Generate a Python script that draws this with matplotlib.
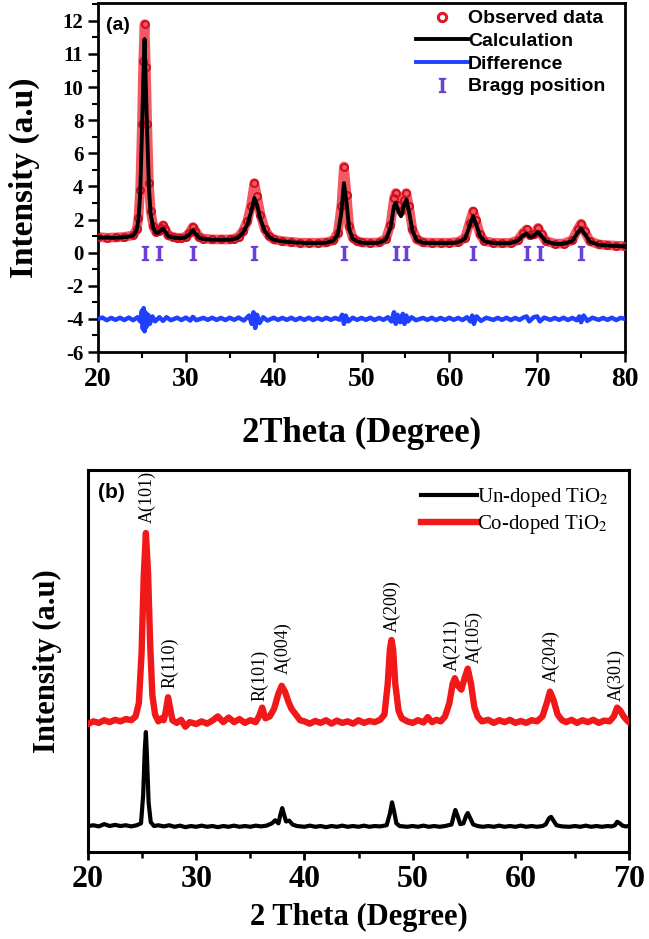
import numpy as np
import matplotlib
matplotlib.use("Agg")
import matplotlib.pyplot as plt
from matplotlib.lines import Line2D
from matplotlib.ticker import FixedLocator, MultipleLocator

plt.rcParams['mathtext.fontset'] = 'stix'

# ---------------- Panel (a) data: Rietveld refinement ----------------
tt_a = [20, 21, 22, 23, 24, 24.4, 24.6, 24.8, 25.0, 25.15, 25.3, 25.45, 25.6, 25.8, 26.0, 26.3,
        26.6, 26.9, 27.2, 27.4, 27.6, 28.0, 28.5, 29.0, 29.5, 30.0, 30.4, 30.8, 31.1,
        31.5, 32, 33, 34, 35, 35.5, 36, 36.5, 37.0, 37.4, 37.8, 38.1, 38.5, 39.0, 39.5,
        40, 41, 42, 43, 44, 45, 46, 46.8, 47.3, 47.7, 48.0, 48.3, 48.6, 49.0, 49.5,
        50, 51, 52, 52.8, 53.3, 53.7, 53.9, 54.2, 54.5, 54.8, 55.1, 55.4, 55.8, 56.3,
        57, 58, 59, 60, 61, 61.8, 62.3, 62.7, 63.0, 63.5, 64.0, 65, 66, 67, 67.8, 68.4,
        68.8, 69.2, 69.6, 70.1, 70.5, 71.0, 72, 73, 74.0, 74.6, 75.0, 75.4, 76.0, 77,
        78, 79, 80]
observed = [0.95, 0.9, 0.92, 0.95, 1.05, 1.4, 2.1, 3.8, 7.8, 10.8, 11.9, 10.6, 7.8, 4.2, 2.5, 1.6,
            1.25, 1.3, 1.5, 1.65, 1.45, 1.05, 0.95, 0.9, 0.9, 0.95, 1.2, 1.55, 1.3,
            0.95, 0.85, 0.8, 0.8, 0.8, 0.85, 0.95, 1.3, 1.9, 2.8, 4.2, 3.4, 2.3, 1.4, 1.0,
            0.8, 0.7, 0.65, 0.6, 0.6, 0.6, 0.62, 0.75, 1.2, 2.8, 5.2, 3.5, 1.6, 0.9, 0.7,
            0.62, 0.6, 0.62, 0.85, 1.7, 3.3, 3.6, 2.9, 2.5, 3.2, 3.6, 2.8, 1.4, 0.8,
            0.62, 0.6, 0.6, 0.6, 0.65, 0.9, 1.8, 2.5, 2.0, 1.1, 0.7, 0.6, 0.58, 0.6, 0.75, 1.2,
            1.4, 1.05, 1.1, 1.5, 1.1, 0.7, 0.55, 0.55, 0.75, 1.4, 1.75, 1.3, 0.7, 0.5,
            0.45, 0.42, 0.4]
calculation = [0.92, 0.9, 0.9, 0.93, 1.02, 1.35, 2.0, 3.5, 7.2, 10.2, 11.45, 10.0, 7.2, 3.9, 2.3, 1.5,
               1.2, 1.22, 1.35, 1.45, 1.3, 1.0, 0.92, 0.88, 0.88, 0.92, 1.1, 1.35, 1.15,
               0.9, 0.82, 0.78, 0.78, 0.78, 0.82, 0.92, 1.2, 1.7, 2.4, 3.3, 2.9, 2.0, 1.3, 0.95,
               0.78, 0.68, 0.63, 0.6, 0.58, 0.58, 0.6, 0.72, 1.1, 2.4, 4.2, 3.0, 1.4, 0.85, 0.68,
               0.6, 0.58, 0.6, 0.8, 1.5, 2.8, 3.0, 2.5, 2.2, 2.8, 3.2, 2.5, 1.3, 0.75,
               0.6, 0.58, 0.58, 0.58, 0.62, 0.85, 1.6, 2.2, 1.8, 1.0, 0.68, 0.58, 0.56, 0.58, 0.72, 1.05,
               1.15, 0.95, 1.0, 1.25, 1.0, 0.68, 0.53, 0.53, 0.7, 1.2, 1.45, 1.15, 0.66, 0.48,
               0.43, 0.4, 0.38]

tt_diff = [20, 20.5, 21, 21.5, 22, 22.5, 23, 23.5, 24, 24.5, 24.8, 25.0, 25.1, 25.2,
           25.3, 25.4, 25.5, 25.7, 25.9, 26.2, 26.5, 27, 27.4, 27.8, 28.3, 29, 29.5, 30,
           30.5, 30.8, 31.2, 32, 32.5, 33, 33.5, 34, 34.5, 35, 35.5, 36, 36.6, 37.2, 37.5,
           37.7, 37.9, 38.1, 38.4, 38.8, 39.3, 40, 40.5, 41, 41.5, 42, 42.5, 43, 43.5, 44,
           44.5, 45, 45.5, 46, 46.5, 47, 47.5, 47.8, 48.0, 48.2, 48.5, 49, 49.5, 50, 50.5,
           51, 51.5, 52, 52.5, 53, 53.4, 53.7, 53.9, 54.1, 54.4, 54.7, 54.9, 55.1, 55.3,
           55.7, 56.2, 57, 57.5, 58, 58.5, 59, 59.5, 60, 60.5, 61, 61.5, 62, 62.4, 62.6,
           62.8, 63.1, 63.6, 64.2, 65, 65.5, 66, 66.5, 67, 67.5, 68, 68.5, 68.8, 69.1,
           69.6, 70.0, 70.3, 70.8, 71.5, 72, 72.5, 73, 73.5, 74, 74.5, 74.8, 75.0, 75.3,
           75.7, 76.3, 77, 77.5, 78, 78.5, 79, 79.5, 80]
difference = [-4.0, -3.92, -4.08, -3.94, -4.06, -3.93, -4.07, -3.92, -4.08, -3.9, -4.15, -3.5, -4.6, -3.35,
              -4.75, -3.6, -4.5, -3.75, -4.3, -3.85, -4.15, -3.9, -4.12, -3.9, -4.08, -3.93, -4.07, -3.92,
              -4.1, -3.88, -4.08, -3.94, -4.06, -3.93, -4.06, -3.94, -4.07, -3.93, -4.06, -3.92, -4.1, -3.8, -4.3,
              -3.6, -4.55, -3.75, -4.25, -3.9, -4.1, -3.93, -4.06, -3.94, -4.06, -3.93, -4.07, -3.94, -4.06, -3.93,
              -4.07, -3.94, -4.06, -3.93, -4.06, -3.94, -4.05, -3.75, -4.3, -3.8, -4.15, -3.93, -4.06, -3.94, -4.06,
              -3.93, -4.07, -3.94, -4.06, -3.9, -4.15, -3.6, -4.3, -3.75, -4.2, -3.7, -4.3, -3.8, -4.15,
              -3.9, -4.08, -3.94, -4.06, -3.93, -4.07, -3.94, -4.06, -3.93, -4.06, -3.94, -4.07, -3.9, -4.15, -3.8,
              -4.3, -3.85, -4.12, -3.93, -4.06, -3.94, -4.06, -3.93, -4.07, -3.94, -4.06, -3.9, -3.85, -4.15,
              -3.9, -3.85, -4.15, -3.92, -4.06, -3.94, -4.06, -3.93, -4.07, -3.94, -4.08, -3.85, -4.2, -3.8,
              -4.12, -3.93, -4.06, -3.94, -4.06, -3.93, -4.07, -3.94, -4.0]

bragg = [25.3, 27.0, 30.8, 37.8, 48.0, 53.9, 55.1, 62.7, 68.8, 70.3, 75.0]
bragg_level = [0] * len(bragg)

yticks_a = [-6, -4, -2, 0, 2, 4, 6, 8, 10, 11, 12]
xticks_a = [20, 30, 40, 50, 60, 70, 80]

# ---------------- Panel (b) data: XRD patterns (offset, arbitrary units) ----------------
tt_co = [20, 20.5, 21, 21.5, 22, 22.5, 23, 23.5, 24, 24.4, 24.7, 24.95, 25.15, 25.35, 25.55,
         25.75, 25.95, 26.2, 26.5, 26.8, 27.0, 27.2, 27.4, 27.6, 27.8, 28.2, 28.6, 29.0, 29.4,
         30, 30.5, 31, 31.5, 32, 32.5, 33, 33.5, 34, 34.5, 35, 35.5, 35.8, 36.1, 36.4, 36.8,
         37.2, 37.6, 37.9, 38.2, 38.5, 38.8, 39.2, 39.6, 40, 40.5, 41, 41.5, 42, 42.5, 43,
         43.5, 44, 44.5, 45, 45.5, 46, 46.5, 47, 47.4, 47.7, 47.9, 48.05, 48.2, 48.4, 48.7,
         49, 49.5, 50, 50.5, 51, 51.4, 51.8, 52.2, 52.6, 53, 53.4, 53.7, 53.9, 54.2, 54.5,
         54.8, 55.1, 55.4, 55.7, 56.0, 56.4, 57, 57.5, 58, 58.5, 59, 59.5, 60, 60.5, 61,
         61.5, 62, 62.4, 62.7, 63.0, 63.4, 63.8, 64.2, 64.7, 65.2, 65.7, 66.2, 66.7, 67.2,
         67.7, 68.2, 68.6, 68.9, 69.2, 69.5, 69.8, 70]
co_doped = [33.5, 34.2, 33.8, 34.5, 34.0, 34.6, 34.2, 34.8, 34.5, 35.5, 39, 52, 72, 83.5, 73,
            54, 41, 36, 34.2, 35, 34.5, 37, 40.5, 37.5, 34.5, 33.8, 34.6, 32.8, 34.0,
            33.5, 34.2, 33.6, 34.4, 35.5, 34.0, 35.2, 34.0, 34.8, 33.8, 34.5, 34.0, 35.5, 37.8, 35, 35.5,
            37.5, 41.5, 43.5, 42, 39.5, 37.5, 36, 34.5, 34.2, 33.6, 34.3, 33.8, 34.5, 33.6, 34.4,
            33.8, 34.2, 33.6, 34.5, 33.8, 34.3, 34.0, 34.6, 36, 44, 53, 55.5, 53, 44, 37,
            35, 34.2, 33.8, 34.5, 33.9, 35.3, 34.0, 34.6, 34.2, 35.5, 39, 44, 45.5, 43.5, 42.5,
            45.5, 48, 44, 38, 35.5, 34.2, 34.6, 33.8, 34.5, 34.0, 34.6, 33.8, 34.3, 33.8, 34.5,
            34.2, 35.5, 39, 42, 40, 36, 34.5, 34.0, 34.6, 33.8, 34.5, 34.0, 34.6, 33.8,
            34.4, 34.2, 35.5, 37.8, 37, 35.5, 34.5, 34]

tt_un = [20, 20.5, 21, 21.5, 22, 22.5, 23, 23.5, 24, 24.5, 24.9, 25.1, 25.25, 25.35, 25.45,
         25.6, 25.8, 26.1, 26.5, 27, 27.5, 28, 28.5, 29, 29.5, 30, 30.5, 31, 31.5, 32, 32.5,
         33, 33.5, 34, 34.5, 35, 35.5, 36, 36.5, 37.0, 37.3, 37.6, 37.8, 37.95, 38.1, 38.3,
         38.6, 38.9, 39.3, 40, 40.5, 41, 41.5, 42, 42.5, 43, 43.5, 44, 44.5, 45, 45.5, 46,
         46.5, 47, 47.6, 47.9, 48.1, 48.3, 48.5, 48.8, 49.5, 50, 50.5, 51, 51.5, 52, 52.5,
         53, 53.6, 53.8, 53.95, 54.15, 54.4, 54.7, 54.95, 55.1, 55.3, 55.6, 56, 56.5, 57,
         57.5, 58, 58.5, 59, 59.5, 60, 60.5, 61, 61.5, 62, 62.3, 62.6, 62.8, 63.0, 63.3,
         63.8, 64.5, 65, 65.5, 66, 66.5, 67, 67.5, 68, 68.4, 68.7, 68.9, 69.1, 69.4, 69.7, 70]
un_doped = [6.8, 7.0, 6.7, 7.3, 6.8, 7.1, 6.8, 7.0, 6.7, 7.0, 7.5, 15, 27, 31.4, 25,
            13, 7.8, 6.8, 7.0, 6.7, 7.0, 6.6, 6.9, 6.5, 6.8, 6.6, 6.9, 6.6, 6.8, 6.5, 6.8,
            6.6, 6.9, 6.6, 6.8, 6.6, 6.9, 6.7, 6.9, 7.5, 8.3, 7.5, 10, 11.5, 10, 8,
            8.2, 7.2, 6.8, 6.6, 6.9, 6.6, 6.8, 6.5, 6.8, 6.6, 6.9, 6.6, 6.8, 6.6, 6.9, 6.6,
            6.8, 6.7, 7.0, 10, 13, 10.5, 7.5, 6.8, 6.6, 6.8, 6.6, 6.9, 6.6, 6.8, 6.6,
            6.8, 7.2, 9.5, 11, 9.5, 7.3, 7.5, 9.5, 10.2, 9.0, 7.2, 6.8, 6.6, 6.8,
            6.6, 6.9, 6.6, 6.8, 6.6, 6.9, 6.6, 6.8, 6.6, 6.8, 7.2, 8.8, 9.2, 8.3, 7.0,
            6.7, 6.6, 6.8, 6.6, 6.9, 6.6, 6.8, 6.6, 6.8, 6.7, 7.0, 7.9, 7.6, 6.9, 6.7, 6.8]

peak_labels = ["A(101)", "R(110)", "R(101)", "A(004)", "A(200)", "A(211)", "A(105)", "A(204)", "A(301)"]
peak_label_x = [25.5, 27.6, 35.9, 38.0, 48.1, 53.7, 55.7, 62.8, 68.8]
peak_label_y = [86, 43, 39.5, 46.5, 57.5, 47.5, 49.5, 44.5, 39.5]
xticks_b = [20, 30, 40, 50, 60, 70]

# ---------------- Figure ----------------
W, H = 649, 939
fig = plt.figure(figsize=(W / 100, H / 100), dpi=100)
serif = 'Liberation Serif'
sans = 'Liberation Sans'

def px_rect(l, t, r, b):
    return [l / W, 1 - b / H, (r - l) / W, (b - t) / H]

# ---- Panel (a)
ax1 = fig.add_axes(px_rect(98, 3, 625, 352))

def fwd(y):
    y = np.asarray(y, dtype=float)
    return np.where(y <= 10, y, 10 + 2 * (y - 10))

def inv(p):
    p = np.asarray(p, dtype=float)
    return np.where(p <= 10, p, 10 + (p - 10) / 2)

ax1.set_yscale('function', functions=(fwd, inv))
ax1.plot(tt_a, observed, color='#f0303c', lw=7, alpha=0.8, solid_capstyle='round', zorder=2)
ax1.plot(tt_a, observed, ls='none', marker='o', ms=5, mfc='none', mec='#d01020', mew=1.5, zorder=3)
ax1.plot(tt_a, calculation, color='black', lw=2.8, zorder=4)
ax1.plot(tt_diff, difference, color='#2040ff', lw=3.2, zorder=4)
ax1.plot(bragg, bragg_level, ls='none', marker=r'$\mathrm{I}$', ms=10, color='#6a40d8', zorder=5)

ax1.set_xlim(20, 80)
ax1.set_ylim(-6, 12.54)
ax1.yaxis.set_major_locator(FixedLocator(yticks_a))
ax1.yaxis.set_minor_locator(FixedLocator([-5, -3, -1, 1, 3, 5, 7, 9, 10.5, 11.5, 12.5]))
ax1.set_yticklabels([str(v) for v in yticks_a])
ax1.xaxis.set_major_locator(FixedLocator(xticks_a))
ax1.xaxis.set_minor_locator(MultipleLocator(5))
ax1.tick_params(axis='both', which='major', direction='out', length=7, width=1.8)
ax1.tick_params(axis='both', which='minor', direction='out', length=4, width=1.5)
for lab in ax1.get_yticklabels():
    lab.set_fontfamily(serif); lab.set_fontweight('bold'); lab.set_fontsize(15)
for lab in ax1.get_xticklabels():
    lab.set_fontfamily(serif); lab.set_fontweight('bold'); lab.set_fontsize(20)
for sp in ax1.spines.values():
    sp.set_linewidth(2.0)
ax1.set_ylabel('Intensity (a.u)', fontfamily=serif, fontweight='bold', fontsize=24, labelpad=16)
ax1.set_xlabel('2Theta (Degree)', fontfamily=serif, fontweight='bold', fontsize=25, labelpad=18)
ax1.text(0.016, 0.935, '(a)', transform=ax1.transAxes, fontfamily=sans, fontweight='bold',
         fontsize=14, va='center', ha='left')

h_a = [Line2D([], [], ls='none', marker='o', ms=6, mfc='none', mec='#e01828', mew=2.2),
       Line2D([], [], color='black', lw=2.8),
       Line2D([], [], color='#2040ff', lw=2.8),
       Line2D([], [], ls='none', marker=r'$\mathrm{I}$', ms=10, color='#6a40d8')]
ax1.legend(h_a, ['Observed data', 'Calculation', 'Difference', 'Bragg position'],
           loc='upper right', bbox_to_anchor=(0.985, 1.014), frameon=False,
           prop={'family': sans, 'weight': 'bold', 'size': 14},
           handlelength=2.7, handletextpad=0.0, labelspacing=0.26, borderaxespad=0.2)

# ---- Panel (b)
ax2 = fig.add_axes(px_rect(88, 470, 629, 852))
ax2.plot(tt_un, un_doped, color='black', lw=3.0, label='Un-doped TiO$_2$', zorder=3)
ax2.plot(tt_co, co_doped, color='#f01818', lw=4.6, label='Co-doped TiO$_2$', zorder=3)
for lbl, x, y in zip(peak_labels, peak_label_x, peak_label_y):
    ax2.text(x, y, lbl, rotation=90, ha='center', va='bottom', fontfamily=serif, fontsize=13)
ax2.set_xlim(20, 70)
ax2.set_ylim(0, 100)
ax2.set_yticks([])
ax2.xaxis.set_major_locator(FixedLocator(xticks_b))
ax2.xaxis.set_minor_locator(MultipleLocator(5))
ax2.tick_params(axis='x', which='major', direction='out', length=6, width=2.0)
ax2.tick_params(axis='x', which='minor', direction='out', length=4, width=1.8)
for lab in ax2.get_xticklabels():
    lab.set_fontfamily(serif); lab.set_fontweight('bold'); lab.set_fontsize(23)
for sp in ax2.spines.values():
    sp.set_linewidth(2.2)
ax2.set_ylabel('Intensity (a.u)', fontfamily=serif, fontweight='bold', fontsize=22, labelpad=19)
ax2.set_xlabel('2 Theta (Degree)', fontfamily=serif, fontweight='bold', fontsize=22, labelpad=6)
ax2.text(0.018, 0.94, '(b)', transform=ax2.transAxes, fontfamily=sans, fontweight='bold',
         fontsize=15, va='center', ha='left')
ax2.legend(loc='upper right', bbox_to_anchor=(0.985, 0.99), frameon=False,
           prop={'family': serif, 'size': 15}, handlelength=2.7, handletextpad=0.0,
           labelspacing=0.2, borderaxespad=0.2)

fig.savefig('out.png', dpi=100)
